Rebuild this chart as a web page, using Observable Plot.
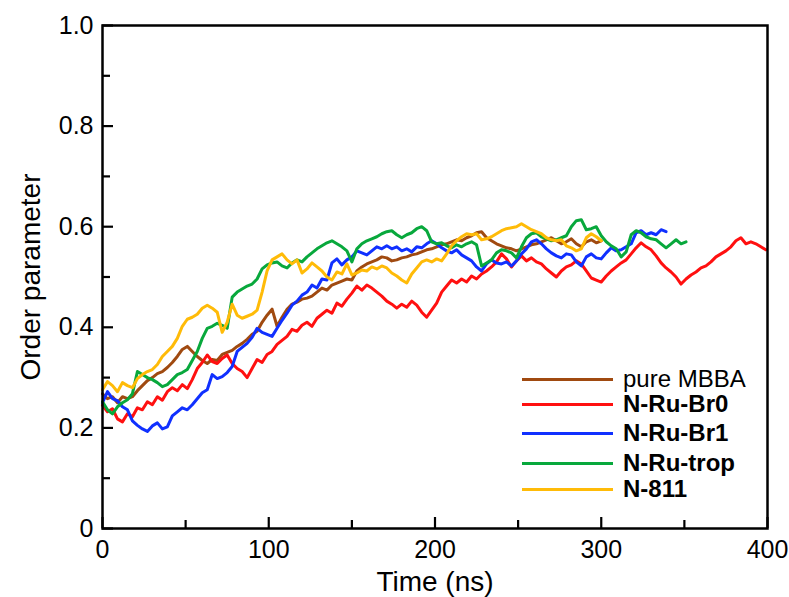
<!DOCTYPE html>
<html><head><meta charset="utf-8">
<script src="https://cdn.jsdelivr.net/npm/d3@7"></script>
<script src="https://cdn.jsdelivr.net/npm/@observablehq/plot@0.6"></script>
<style>
body{margin:0;background:#fff;}
#wrap{position:relative;width:789px;height:597px;font-family:"Liberation Sans",Arial,Helvetica,sans-serif;}
#legend{position:absolute;left:522px;top:0;}
.row{position:absolute;left:0;display:flex;align-items:center;height:22px;line-height:22px;white-space:nowrap;font-size:24px;color:#000;}
.row .sw{width:91px;height:3px;margin-right:10px;flex:none;}
</style>
</head><body>
<div id="wrap"><div id="legend"></div></div>
<script>
// sampling interval of the trajectories (ns)
const step = 3;

const seriesNames = ["pure MBBA", "N-Ru-Br0", "N-Ru-Br1", "N-Ru-trop", "N-811"];
const seriesColors = ["#a04a10", "#ff1010", "#1030ff", "#08a83c", "#ffbb08"];
const seriesBold = [false, true, true, true, true];

const xTicks = [0, 100, 200, 300, 400];
const xMinor = [50, 150, 250, 350];
const yTicks = [0, 0.2, 0.4, 0.6, 0.8, 1.0];
const yMinor = [0.1, 0.3, 0.5, 0.7, 0.9];
const yTickLabels = ["0", "0.2", "0.4", "0.6", "0.8", "1.0"];

const pureMBBA = [.268,.258,.262,.250,.262,.258,.262,.274,.284,.294,.300,.308,.312,.320,.330,.342,.356,.362,.352,.342,
.334,.328,.336,.334,.346,.350,.354,.362,.368,.376,.386,.392,.410,.424,.436,.402,.420,.436,.446,.450,
.456,.458,.462,.470,.478,.474,.484,.488,.492,.496,.494,.512,.520,.526,.530,.534,.540,.538,.532,.534,
.538,.540,.544,.546,.550,.554,.556,.560,.564,.566,.570,.574,.572,.578,.582,.588,.590,.578,.572,.566,
.562,.558,.556,.552,.556,.560,.564,.566,.570,.574,.578,.572,.566,.570,.576,.566,.560,.570,.574,.568,.572];

const nRuBr0 = [.245,.232,.238,.218,.212,.228,.222,.240,.236,.252,.246,.262,.255,.272,.280,.274,.286,.278,.296,.318,
.330,.345,.332,.328,.338,.345,.328,.318,.312,.300,.318,.336,.330,.346,.352,.366,.374,.382,.396,.392,
.404,.410,.402,.418,.426,.434,.428,.448,.442,.456,.468,.482,.474,.484,.478,.470,.462,.452,.446,.438,
.446,.440,.452,.444,.430,.420,.434,.448,.470,.482,.494,.488,.496,.490,.502,.496,.506,.512,.520,.530,
.546,.536,.520,.532,.542,.532,.538,.530,.526,.516,.508,.500,.512,.520,.524,.532,.526,.512,.498,.494,
.490,.502,.512,.520,.528,.534,.546,.558,.568,.560,.554,.542,.528,.518,.510,.500,.486,.496,.504,.510,
.518,.522,.530,.540,.546,.552,.560,.572,.578,.566,.570,.566,.560,.554];

const nRuBr1 = [.250,.272,.258,.254,.242,.236,.214,.205,.198,.193,.204,.210,.198,.202,.224,.232,.240,.236,.246,.258,
.270,.276,.306,.298,.302,.310,.322,.352,.360,.368,.380,.398,.390,.386,.382,.398,.414,.428,.444,.452,
.464,.470,.484,.478,.496,.494,.528,.536,.524,.534,.540,.552,.548,.544,.552,.560,.556,.562,.556,.560,
.552,.556,.550,.560,.558,.566,.572,.566,.558,.552,.548,.554,.544,.538,.532,.520,.512,.526,.534,.528,
.526,.530,.522,.532,.546,.556,.570,.574,.566,.556,.548,.542,.538,.546,.544,.530,.522,.540,.546,.538,
.536,.548,.558,.552,.554,.560,.566,.588,.592,.584,.588,.584,.594,.590];

const nRuTrop = [.252,.236,.228,.242,.250,.256,.268,.312,.306,.300,.296,.290,.282,.286,.296,.306,.310,.316,.334,.352,
.378,.398,.402,.408,.404,.398,.460,.470,.476,.482,.486,.496,.516,.524,.528,.530,.522,.518,.528,.534,
.530,.540,.548,.556,.562,.568,.572,.566,.560,.552,.530,.556,.566,.572,.576,.580,.586,.590,.592,.584,
.578,.584,.588,.596,.600,.592,.570,.566,.568,.562,.558,.564,.560,.566,.570,.564,.522,.528,.534,.548,
.554,.552,.548,.538,.560,.578,.586,.588,.580,.576,.572,.574,.578,.582,.600,.612,.614,.594,.596,.600,
.582,.570,.562,.556,.540,.550,.584,.592,.588,.580,.576,.574,.566,.558,.566,.574,.566,.570];

const n811 = [.276,.292,.284,.272,.290,.284,.280,.298,.306,.312,.316,.326,.342,.352,.362,.378,.402,.416,.420,.426,
.438,.444,.438,.430,.390,.410,.446,.424,.418,.422,.426,.434,.470,.512,.534,.540,.546,.534,.526,.534,
.508,.516,.528,.520,.512,.500,.494,.510,.506,.526,.504,.508,.514,.512,.520,.516,.522,.518,.508,.502,
.494,.488,.506,.518,.530,.534,.530,.536,.532,.546,.562,.572,.580,.586,.584,.586,.574,.576,.580,.586,
.592,.596,.598,.600,.606,.600,.594,.590,.586,.578,.574,.572,.574,.562,.558,.552,.556,.578,.586,.580,.572];

const seriesValues = [pureMBBA, nRuBr0, nRuBr1, nRuTrop, n811];

const rows = [];
seriesValues.forEach((vals, s) => {
  vals.forEach((v, i) => rows.push({series: seriesNames[s], time: i * step, value: v}));
});

const font = "'Liberation Sans', Arial, Helvetica, sans-serif";

const chart = Plot.plot({
  width: 789,
  height: 597,
  marginLeft: 102,
  marginRight: 22,
  marginTop: 25,
  marginBottom: 69,
  style: {fontFamily: font, background: "white", color: "black", overflow: "visible"},
  x: {domain: [0, 400]},
  y: {domain: [0, 1]},
  color: {domain: seriesNames, range: seriesColors},
  marks: [
    Plot.line(rows, {x: "time", y: "value", z: "series", stroke: "series", strokeWidth: 3, strokeLinejoin: "round"}),
    Plot.frame({stroke: "black", strokeWidth: 2.5}),
    // inward ticks
    Plot.axisX(xTicks, {tickSize: 11, dy: -11, strokeWidth: 2.2, tickFormat: () => "", label: null}),
    Plot.axisX(xMinor, {tickSize: 8, dy: -8, strokeWidth: 2.2, tickFormat: () => "", label: null}),
    Plot.axisY(yTicks, {tickSize: 11, dx: 11, strokeWidth: 2.2, tickFormat: () => "", label: null}),
    Plot.axisY(yMinor, {tickSize: 8, dx: 8, strokeWidth: 2.2, tickFormat: () => "", label: null}),
    // tick labels
    Plot.axisX(xTicks, {tickSize: 0, tickPadding: 12, fontSize: 25, label: null, tickFormat: d => String(d)}),
    Plot.axisY(yTicks, {tickSize: 0, tickPadding: 9, fontSize: 25, label: null, tickFormat: (d, i) => yTickLabels[i]}),
    // axis titles
    Plot.text(["Time (ns)"], {frameAnchor: "bottom", dy: 62, fontSize: 28, lineAnchor: "bottom", textAnchor: "middle"}),
    Plot.text(["Order parameter"], {frameAnchor: "left", dx: -63, rotate: -90, fontSize: 28, lineAnchor: "bottom", textAnchor: "middle"})
  ]
});
document.getElementById("wrap").prepend(chart);

// legend (inside plot area, lower right)
const legendTops = [379, 404, 433, 463, 489];
const legend = document.getElementById("legend");
seriesNames.forEach((name, i) => {
  const row = document.createElement("div");
  row.className = "row";
  row.style.top = (legendTops[i] - 11) + "px";
  const sw = document.createElement("span");
  sw.className = "sw";
  sw.style.background = seriesColors[i];
  const label = document.createElement("span");
  label.textContent = name;
  label.style.fontWeight = seriesBold[i] ? "bold" : "normal";
  row.append(sw, label);
  legend.append(row);
});
</script>
</body></html>
